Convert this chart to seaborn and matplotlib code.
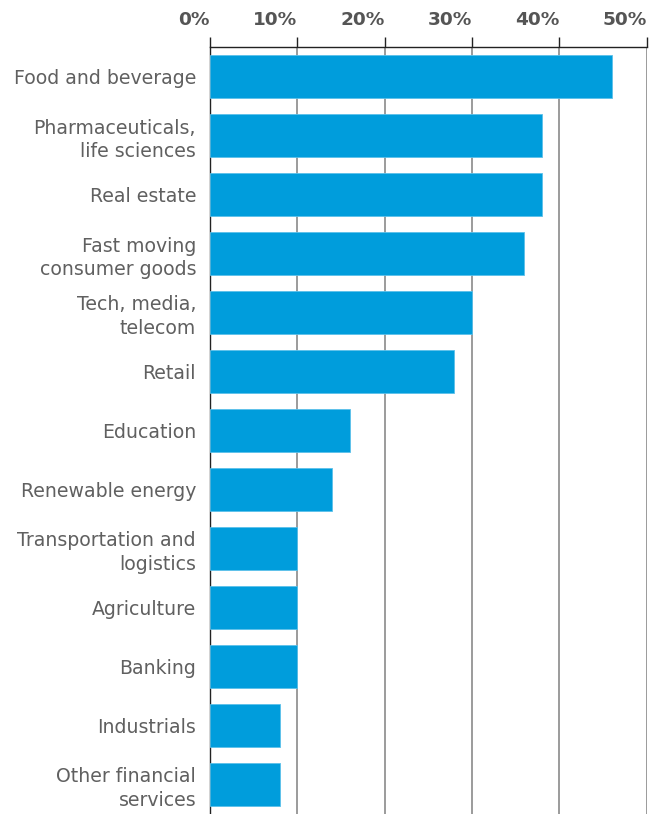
import numpy as np
import pandas as pd
import matplotlib
matplotlib.use("Agg")
import matplotlib.pyplot as plt
import seaborn as sns

# データ
sectors = [
    "Food and beverage",
    "Pharmaceuticals,\nlife sciences",
    "Real estate",
    "Fast moving\nconsumer goods",
    "Tech, media,\ntelecom",
    "Retail",
    "Education",
    "Renewable energy",
    "Transportation and\nlogistics",
    "Agriculture",
    "Banking",
    "Industrials",
    "Other financial\nservices",
]
shares = [46, 38, 38, 36, 30, 28, 16, 14, 10, 10, 10, 8, 8]
x_ticks = [0, 10, 20, 30, 40, 50]
x_labels = ["0%", "10%", "20%", "30%", "40%", "50%"]

df = pd.DataFrame({"sector": sectors, "share": shares})

sns.set_style("white")
plt.rcParams["font.family"] = ["DejaVu Sans"]

fig = plt.figure(figsize=(6.59, 8.14), dpi=100)
ax = fig.add_axes([210 / 659, 0, 436.5 / 659, 767 / 814])

sns.barplot(data=df, x="share", y="sector", orient="h", color="#009ddc",
            saturation=1, width=0.72, edgecolor="#5cc0ea", linewidth=0.6,
            ax=ax, zorder=3)

ax.set_xlim(0, 50)
ax.set_ylim(len(sectors) - 0.5, -0.5)

# 上側の目盛（ラベルは目盛の左に寄せる）
ax.xaxis.tick_top()
ax.set_xticks(x_ticks)
ax.set_xticklabels(x_labels, fontsize=13.3, fontweight="bold", color="#555555",
                   ha="right")
ax.tick_params(axis="x", direction="out", length=7, width=1, color="#222222", pad=6)
ax.grid(axis="x", color="#8a8a8a", linewidth=1.2, zorder=0)

# 左側の目盛（カテゴリの境界）
ax.set_yticks(np.arange(len(sectors)))
ax.set_yticklabels(sectors, fontsize=13.6, color="#606060", linespacing=1.28)
ax.set_yticks(np.arange(len(sectors)) + 0.5, minor=True)
ax.tick_params(axis="y", which="major", length=0, pad=10)
ax.tick_params(axis="y", which="minor", direction="out", length=2, width=1,
               color="#222222")
for lab in ax.get_yticklabels():
    lab.set_horizontalalignment("right")
    lab.set_multialignment("right")

ax.set_xlabel("")
ax.set_ylabel("")
for side in ["right", "bottom"]:
    ax.spines[side].set_visible(False)
ax.spines["top"].set_color("#222222")
ax.spines["top"].set_linewidth(1)
ax.spines["left"].set_color("#222222")
ax.spines["left"].set_linewidth(1)

fig.savefig("out.png", dpi=100)
